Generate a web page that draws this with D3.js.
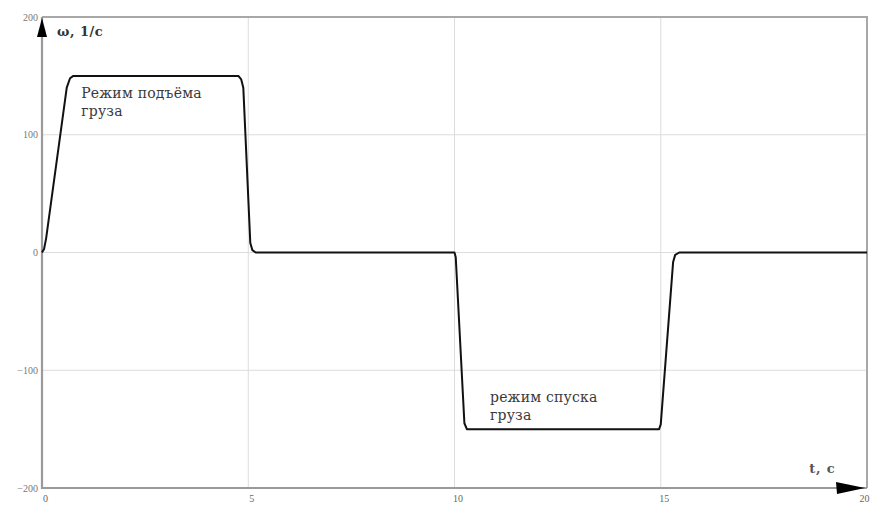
<!DOCTYPE html>
<html>
<head>
<meta charset="utf-8">
<script src="https://cdn.jsdelivr.net/npm/d3@7"></script>
<style>
  html, body { margin: 0; padding: 0; background: #fff; }
  svg { display: block; }
</style>
</head>
<body>
<svg id="chart" width="873" height="508"></svg>
<script>
// Angular speed of the hoist motor over one lift / lower cycle
const timeS = [0, 0.05, 0.1, 0.6, 0.68, 0.76, 4.76, 4.83, 4.88, 5.05, 5.1, 5.18, 10.0, 10.03, 10.24, 10.3, 14.96, 15.0, 15.3, 15.35, 15.45, 20];
const omega = [0, 3, 12, 140, 148, 150, 150, 147, 140, 8, 2, 0, 0, -4, -145, -150, -150, -146, -8, -2, 0, 0];
const xTicks = [0, 5, 10, 15, 20];
const yTicks = [-200, -100, 0, 100, 200];
const yTickLabels = ["\u2212200", "\u2212100", "0", "100", "200"];
const notes = [
  { t: 0.95, w: 131, lines: ["Режим подъёма", "груза"] },
  { t: 10.86, w: -127, lines: ["режим спуска", "груза"] }
];

const svg = d3.select("#chart");
const mLeft = 42, mRight = 867, mTop = 17, mBottom = 488;

const x = d3.scaleLinear().domain([0, 20]).range([mLeft, mRight]);
const y = d3.scaleLinear().domain([-200, 200]).range([mBottom, mTop]);

const serif = "'Liberation Serif', 'DejaVu Serif', serif";
const wideSerif = "'DejaVu Serif', serif";

// grid
svg.append("g").selectAll("line").data(xTicks.slice(1, -1)).join("line")
  .attr("x1", d => x(d)).attr("x2", d => x(d))
  .attr("y1", mTop).attr("y2", mBottom)
  .attr("stroke", "#dcdcdc").attr("stroke-width", 1);
svg.append("g").selectAll("line").data(yTicks.slice(1, -1)).join("line")
  .attr("x1", mLeft).attr("x2", mRight)
  .attr("y1", d => y(d)).attr("y2", d => y(d))
  .attr("stroke", "#dcdcdc").attr("stroke-width", 1);

// frame
svg.append("path")
  .attr("d", `M${mLeft},${mTop}H${mRight}V${mBottom}`)
  .attr("fill", "none").attr("stroke", "#a8a8a8").attr("stroke-width", 2);
svg.append("path")
  .attr("d", `M${mLeft},${mTop}V${mBottom}H${mRight}`)
  .attr("fill", "none").attr("stroke", "#9a9a9a").attr("stroke-width", 2.2);

// axes tick labels
const yAxis = d3.axisLeft(y).tickValues(yTicks).tickSize(0).tickPadding(4)
  .tickFormat((d, i) => yTickLabels[i]);
const gy = svg.append("g").attr("transform", `translate(${mLeft},0)`).call(yAxis);
gy.select(".domain").remove();
gy.selectAll("text").style("font-family", serif).attr("font-size", 10).attr("fill", "#777");

const xAxis = d3.axisBottom(x).tickValues(xTicks).tickSize(0).tickPadding(7);
const gx = svg.append("g").attr("transform", `translate(0,${mBottom})`).call(xAxis);
gx.select(".domain").remove();
gx.selectAll("text").style("font-family", serif).attr("font-size", 10).attr("fill", "#666")
  .attr("dx", (d, i) => i === xTicks.length - 1 ? -3 : 3);

// arrows
svg.append("path")
  .attr("d", `M${mLeft},${mTop + 1}L${mLeft + 5},${mTop + 20}L${mLeft - 5},${mTop + 20}Z`)
  .attr("fill", "#000");
svg.append("path")
  .attr("d", `M${mRight - 2},${mBottom}L${mRight - 31},${mBottom - 6}L${mRight - 30},${mBottom + 6}Z`)
  .attr("fill", "#000");

// axis titles
svg.append("text").attr("x", mLeft + 15).attr("y", mTop + 19)
  .style("font-family", wideSerif).attr("font-size", 13).attr("font-weight", "bold")
  .attr("letter-spacing", 0.5).attr("fill", "#333")
  .text("ω, 1/с");
svg.append("text").attr("x", x(18.6)).attr("y", mBottom - 15)
  .style("font-family", wideSerif).attr("font-size", 13).attr("font-weight", "bold")
  .attr("letter-spacing", 0.8).attr("fill", "#555")
  .text("t, с");

// speed curve
const line = d3.line().x((d, i) => x(timeS[i])).y((d, i) => y(omega[i]));
svg.append("path")
  .attr("d", line(omega))
  .attr("fill", "none").attr("stroke", "#111").attr("stroke-width", 2)
  .attr("stroke-linejoin", "round");

// annotations
notes.forEach(n => {
  const t = svg.append("text")
    .style("font-family", wideSerif).attr("font-size", 14).attr("letter-spacing", 0.2)
    .attr("fill", "#3a3a3a");
  n.lines.forEach((s, i) => {
    t.append("tspan").attr("x", x(n.t)).attr("y", y(n.w) + i * 18).text(s);
  });
});
</script>
</body>
</html>
